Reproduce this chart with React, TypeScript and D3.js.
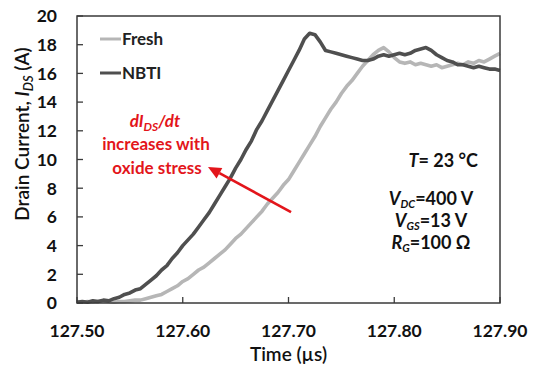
import React from "react";
import * as d3 from "d3";

// Time axis samples (µs)
const time: number[] = [
  127.5, 127.505, 127.51, 127.515, 127.52, 127.525, 127.53, 127.535, 127.54, 127.545,
  127.55, 127.555, 127.56, 127.565, 127.57, 127.575, 127.58, 127.585, 127.59, 127.595,
  127.6, 127.605, 127.61, 127.615, 127.62, 127.625, 127.63, 127.635, 127.64, 127.645,
  127.65, 127.655, 127.66, 127.665, 127.67, 127.675, 127.68, 127.685, 127.69, 127.695,
  127.7, 127.705, 127.71, 127.715, 127.72, 127.725, 127.73, 127.735, 127.74, 127.745,
  127.75, 127.755, 127.76, 127.765, 127.77, 127.775, 127.78, 127.785, 127.79, 127.795,
  127.8, 127.805, 127.81, 127.815, 127.82, 127.825, 127.83, 127.835, 127.84, 127.845,
  127.85, 127.855, 127.86, 127.865, 127.87, 127.875, 127.88, 127.885, 127.89, 127.895,
  127.9,
];

// Drain current (A), fresh device
const fresh: number[] = [
  0.1, 0.05, 0.1, 0.05, 0.1, 0.15, 0.1, 0.05, 0.1, 0.1,
  0.15, 0.2, 0.2, 0.3, 0.4, 0.5, 0.6, 0.8, 1.0, 1.2,
  1.5, 1.7, 2.0, 2.3, 2.5, 2.8, 3.1, 3.4, 3.7, 4.1,
  4.5, 4.8, 5.2, 5.6, 6.0, 6.4, 6.9, 7.3, 7.7, 8.2,
  8.6, 9.2, 9.8, 10.4, 11.0, 11.6, 12.3, 12.9, 13.5, 14.0,
  14.6, 15.1, 15.5, 16.0, 16.5, 16.9, 17.3, 17.6, 17.8, 17.5,
  17.1, 16.8, 16.7, 16.8, 16.6, 16.7, 16.6, 16.5, 16.6, 16.4,
  16.5, 16.6, 16.7, 16.6, 16.8, 16.7, 16.9, 16.8, 17.0, 17.2,
  17.4,
];

// Drain current (A), after NBTI stress
const nbti: number[] = [
  0.05, 0.1, 0.05, 0.15, 0.1, 0.2, 0.15, 0.3, 0.4, 0.6,
  0.7, 0.9, 1.0, 1.3, 1.6, 1.9, 2.3, 2.6, 3.1, 3.5,
  4.0, 4.4, 4.8, 5.3, 5.8, 6.3, 6.9, 7.5, 8.1, 8.7,
  9.4, 10.0, 10.7, 11.3, 12.1, 12.7, 13.4, 14.1, 14.8, 15.5,
  16.2, 16.9, 17.6, 18.4, 18.8, 18.7, 18.2, 17.6, 17.5, 17.4,
  17.3, 17.2, 17.1, 17.0, 16.9, 16.9, 17.0, 17.2, 17.3, 17.2,
  17.3, 17.4, 17.3, 17.4, 17.6, 17.7, 17.8, 17.6, 17.3, 17.1,
  16.9, 16.8, 16.6, 16.6, 16.5, 16.4, 16.5, 16.4, 16.3, 16.3,
  16.2,
];

const xTicks: number[] = [127.5, 127.6, 127.7, 127.8, 127.9];
const yTicks: number[] = [0, 2, 4, 6, 8, 10, 12, 14, 16, 18, 20];

// Annotation arrow, tail → head, in data units
const arrowTail: [number, number] = [127.7024, 6.34];
const arrowHead: [number, number] = [127.6239, 9.48];

const W = 546;
const H = 367;
const M = { left: 77, right: 46, top: 16, bottom: 64 };

const FONT = "Lato, 'Open Sans', sans-serif";
const RED = "#e3151b";
const AXIS = "#3a3a3a";

export default function App() {
  const x = d3.scaleLinear().domain([127.5, 127.9]).range([M.left, W - M.right]);
  const y = d3.scaleLinear().domain([0, 20]).range([H - M.bottom, M.top]);

  const line = d3
    .line<number>()
    .x((_, i) => x(time[i]))
    .y((d) => y(d));

  const x0 = x.range()[0];
  const x1 = x.range()[1];
  const y0 = y.range()[0];
  const y1 = y.range()[1];

  const hx = x(arrowHead[0]);
  const hy = y(arrowHead[1]);
  const tx = x(arrowTail[0]);
  const ty = y(arrowTail[1]);
  const ang = Math.atan2(hy - ty, hx - tx);
  const aL = 13;
  const aW = 6;
  const bx = hx - aL * Math.cos(ang);
  const by = hy - aL * Math.sin(ang);
  const px = -Math.sin(ang);
  const py = Math.cos(ang);

  return (
    <svg
      width={W}
      height={H}
      style={{ position: "absolute", left: 0, top: 0, background: "#fff" }}
      fontFamily={FONT}
    >
      {/* traces */}
      <path d={line(fresh) || ""} fill="none" stroke="#b6b6b6" strokeWidth={3.6} strokeLinejoin="round" />
      <path d={line(nbti) || ""} fill="none" stroke="#4f4f4f" strokeWidth={3.6} strokeLinejoin="round" />

      {/* frame */}
      <rect x={x0} y={y1} width={x1 - x0} height={y0 - y1} fill="none" stroke={AXIS} strokeWidth={1.5} />

      {/* y ticks */}
      {yTicks.map((v) => (
        <g key={"y" + v}>
          <line x1={x0} x2={x0 + 6} y1={y(v)} y2={y(v)} stroke={AXIS} strokeWidth={1.3} />
          <text x={x0 - 20} y={y(v)} dy="0.36em" textAnchor="end" fontSize={17.5} fontWeight={700} fill="#111">
            {v}
          </text>
        </g>
      ))}

      {/* x ticks */}
      {xTicks.map((t) => (
        <g key={"x" + t}>
          <line x1={x(t)} x2={x(t)} y1={y0} y2={y0 - 6} stroke={AXIS} strokeWidth={1.3} />
          <text x={x(t)} y={y0 + 34} textAnchor="middle" fontSize={17.5} fontWeight={700} fill="#111">
            {t.toFixed(2)}
          </text>
        </g>
      ))}

      {/* axis titles */}
      <text x={(x0 + x1) / 2} y={361} textAnchor="middle" fontSize={19} fontWeight={600} fill="#111">
        Time (µs)
      </text>
      <text
        transform={`translate(29,134) rotate(-90)`}
        textAnchor="middle"
        fontSize={19}
        fontWeight={600}
        fill="#111"
      >
        Drain Current, <tspan fontStyle="italic">I</tspan>
        <tspan fontStyle="italic" fontSize={13} dy={4}>DS</tspan>
        <tspan dy={-4}> (A)</tspan>
      </text>

      {/* legend */}
      <line x1={100} x2={121} y1={39} y2={39} stroke="#b6b6b6" strokeWidth={3} />
      <text x={122} y={45} fontSize={17} fontWeight={700} fill="#222">Fresh</text>
      <line x1={100} x2={121} y1={73} y2={73} stroke="#4f4f4f" strokeWidth={3} />
      <text x={122} y={79} fontSize={17} fontWeight={700} fill="#222">NBTI</text>

      {/* annotation */}
      <g fill={RED} fontSize={17} fontWeight={700} textAnchor="middle">
        <text x={155} y={127} fontStyle="italic">
          dI<tspan fontSize={12} dy={4}>DS</tspan>
          <tspan dy={-4}>/dt</tspan>
        </text>
        <text x={156} y={150}>increases with</text>
        <text x={157} y={174}>oxide stress</text>
      </g>
      <line x1={tx} y1={ty} x2={bx} y2={by} stroke={RED} strokeWidth={2.6} />
      <path
        d={`M${hx},${hy}L${bx + px * aW},${by + py * aW}L${bx - px * aW},${by - py * aW}Z`}
        fill={RED}
      />

      {/* test conditions */}
      <g fontSize={18} fontWeight={700} fill="#111">
        <text x={478} y={167} textAnchor="end">
          <tspan fontStyle="italic">T</tspan>= 23 °C
        </text>
        <text x={431} y={205} textAnchor="middle">
          <tspan fontStyle="italic">V</tspan>
          <tspan fontStyle="italic" fontSize={11} dy={3}>DC</tspan>
          <tspan dy={-3}>=400 V</tspan>
        </text>
        <text x={431} y={227} textAnchor="middle">
          <tspan fontStyle="italic">V</tspan>
          <tspan fontStyle="italic" fontSize={11} dy={3}>GS</tspan>
          <tspan dy={-3}>=13 V</tspan>
        </text>
        <text x={431} y={249} textAnchor="middle">
          <tspan fontStyle="italic">R</tspan>
          <tspan fontStyle="italic" fontSize={11} dy={3}>G</tspan>
          <tspan dy={-3}>=100 Ω</tspan>
        </text>
      </g>
    </svg>
  );
}
